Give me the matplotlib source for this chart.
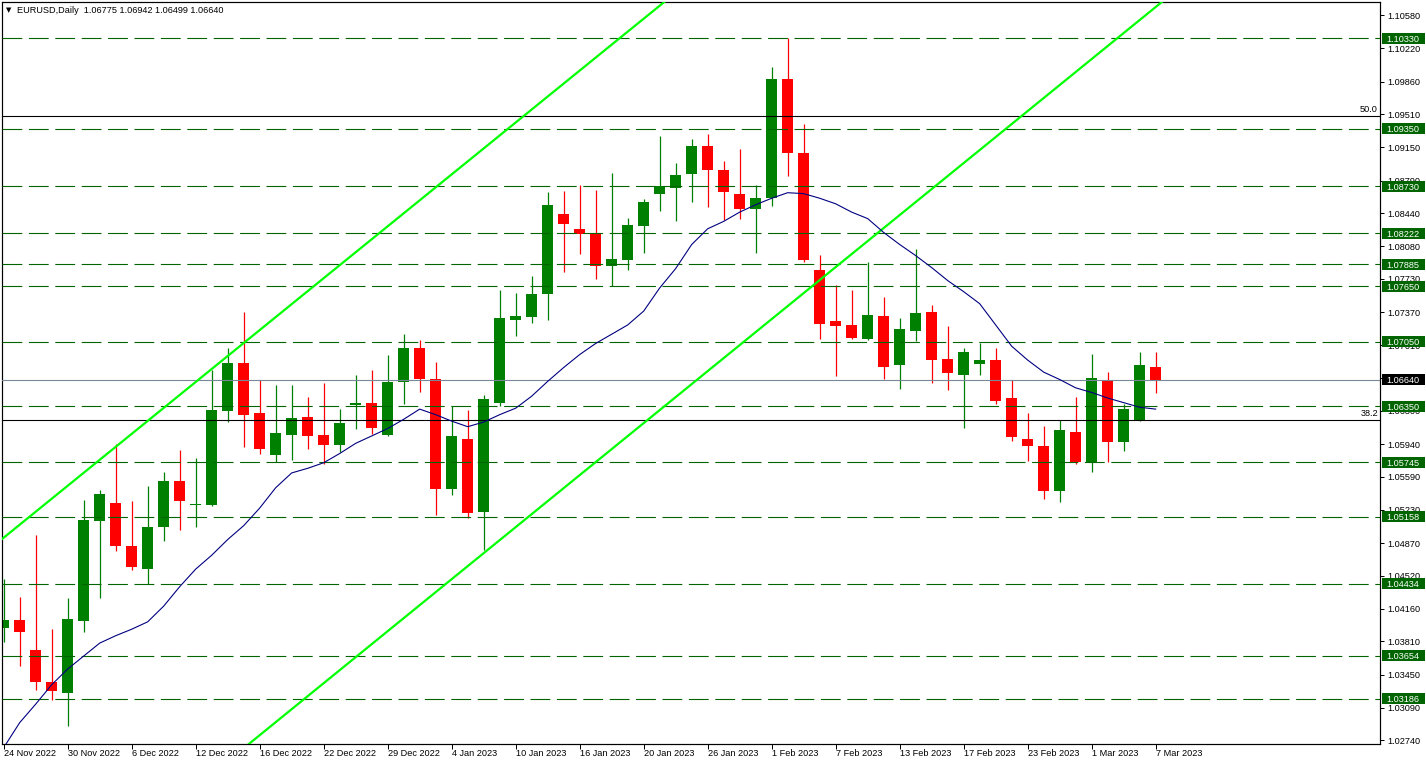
import matplotlib
matplotlib.use('Agg')
import matplotlib.pyplot as plt
from matplotlib.patches import Rectangle
import matplotlib.transforms as mtransforms

# ---------------- data ----------------
symbol_title = "EURUSD,Daily  1.06775 1.06942 1.06499 1.06640"

opens = [1.0395, 1.0404, 1.0371, 1.0337, 1.0325, 1.0403, 1.0511, 1.0530, 1.0484, 1.0459,
         1.0504, 1.0554, 1.0528, 1.0528, 1.0630, 1.0682, 1.0628, 1.0582, 1.0604, 1.0624,
         1.0604, 1.0593, 1.0636, 1.0639, 1.0604, 1.0661, 1.0698, 1.0665, 1.0546, 1.0600,
         1.0521, 1.0639, 1.0728, 1.0732, 1.0757, 1.0843, 1.0827, 1.0821, 1.0787, 1.0793,
         1.0830, 1.0865, 1.0871, 1.0886, 1.0917, 1.0891, 1.0865, 1.0848, 1.0860, 1.0989,
         1.0909, 1.0782, 1.0727, 1.0723, 1.0708, 1.0733, 1.0680, 1.0717, 1.0737, 1.0686,
         1.0669, 1.0681, 1.0685, 1.0644, 1.0600, 1.0592, 1.0543, 1.0607, 1.0575, 1.0663,
         1.0596, 1.0620, 1.06775]
highs = [1.0448, 1.0429, 1.0496, 1.0394, 1.0428, 1.0534, 1.0545, 1.0594, 1.0533, 1.0549,
         1.0564, 1.0588, 1.0579, 1.0674, 1.0698, 1.0737, 1.0663, 1.0658, 1.0658, 1.0645,
         1.0660, 1.0632, 1.0669, 1.0674, 1.0690, 1.0713, 1.0707, 1.0683, 1.0635, 1.0631,
         1.0647, 1.0761, 1.0758, 1.0776, 1.0867, 1.0868, 1.0874, 1.0869, 1.0887, 1.0839,
         1.0859, 1.0927, 1.0898, 1.0924, 1.0930, 1.0900, 1.0913, 1.0874, 1.1002, 1.1033,
         1.0940, 1.0799, 1.0766, 1.0761, 1.0791, 1.0753, 1.0730, 1.0805, 1.0745, 1.0722,
         1.0698, 1.0704, 1.0698, 1.0664, 1.0628, 1.0614, 1.0620, 1.0645, 1.0692, 1.0672,
         1.0638, 1.0694, 1.06942]
lows = [1.0380, 1.0354, 1.0328, 1.0318, 1.0289, 1.0391, 1.0428, 1.0479, 1.0458, 1.0443,
        1.0489, 1.0501, 1.0505, 1.0527, 1.0618, 1.0591, 1.0584, 1.0575, 1.0577, 1.0589,
        1.0573, 1.0586, 1.0611, 1.0605, 1.0603, 1.0638, 1.0650, 1.0518, 1.0539, 1.0514,
        1.0480, 1.0635, 1.0711, 1.0725, 1.0728, 1.0780, 1.0800, 1.0773, 1.0765, 1.0782,
        1.0801, 1.0846, 1.0835, 1.0856, 1.0850, 1.0837, 1.0838, 1.0801, 1.0852, 1.0884,
        1.0791, 1.0708, 1.0668, 1.0708, 1.0707, 1.0665, 1.0654, 1.0706, 1.0660, 1.0653,
        1.0612, 1.0669, 1.0637, 1.0598, 1.0576, 1.0535, 1.0532, 1.0573, 1.0564, 1.0575,
        1.0587, 1.0619, 1.06499]
closes = [1.0404, 1.0391, 1.0337, 1.0327, 1.0405, 1.0512, 1.0540, 1.0484, 1.0461, 1.0505,
          1.0554, 1.0533, 1.0529, 1.0631, 1.0682, 1.0626, 1.0589, 1.0606, 1.0622, 1.0603,
          1.0593, 1.0617, 1.0639, 1.0612, 1.0661, 1.0698, 1.0665, 1.0546, 1.0603, 1.0520,
          1.0643, 1.0730, 1.0733, 1.0757, 1.0853, 1.0832, 1.0821, 1.0787, 1.0794, 1.0831,
          1.0856, 1.0873, 1.0885, 1.0917, 1.0891, 1.0867, 1.0848, 1.0860, 1.0989, 1.0909,
          1.0793, 1.0724, 1.0722, 1.0709, 1.0734, 1.0677, 1.0719, 1.0736, 1.0685, 1.0671,
          1.0694, 1.0685, 1.0641, 1.0602, 1.0592, 1.0544, 1.0609, 1.0575, 1.0666, 1.0596,
          1.0632, 1.0680, 1.06640]

ma_values = [1.0266, 1.0293, 1.0313, 1.0334, 1.0351, 1.0365, 1.0379, 1.0387, 1.0394, 1.0402,
             1.0419, 1.0440, 1.0459, 1.0474, 1.0491, 1.0506, 1.0525, 1.0547, 1.0563, 1.0568,
             1.0574, 1.0584, 1.0595, 1.0603, 1.0611, 1.0621, 1.0632, 1.0626, 1.0619, 1.0613,
             1.0618, 1.0626, 1.0633, 1.0646, 1.0662, 1.0677, 1.0691, 1.0703, 1.0713, 1.0723,
             1.0738, 1.0763, 1.0784, 1.0810, 1.0827, 1.0835, 1.0845, 1.0853, 1.0860, 1.0866,
             1.0865, 1.0860, 1.0854, 1.0845, 1.0838, 1.0823, 1.0810, 1.0798, 1.0785, 1.0771,
             1.0759, 1.0746, 1.0723, 1.0700, 1.0685, 1.0672, 1.0664, 1.0655, 1.0650, 1.0644,
             1.0639, 1.0634, 1.0632]

level_prices = [1.10330, 1.09350, 1.08730, 1.08222, 1.07885, 1.07650, 1.07050,
                1.06350, 1.05745, 1.05158, 1.04434, 1.03654, 1.03186]
level_labels = ["1.10330", "1.09350", "1.08730", "1.08222", "1.07885", "1.07650", "1.07050",
                "1.06350", "1.05745", "1.05158", "1.04434", "1.03654", "1.03186"]

fib_prices = [1.09490, 1.06203]
fib_labels = ["50.0", "38.2"]

current_price = 1.06640
current_label = "1.06640"

# channel anchor points: (bar index, price)
channel_upper = [(0.0, 1.0493), (41.2, 1.1071)]
channel_lower = [(15.4, 1.0271), (72.3, 1.1071)]

ytick_values = [1.10580, 1.10220, 1.09860, 1.09510, 1.09150, 1.08790, 1.08440, 1.08080,
                1.07730, 1.07370, 1.07010, 1.06660, 1.06300, 1.05940, 1.05590, 1.05230,
                1.04870, 1.04520, 1.04160, 1.03810, 1.03450, 1.03090, 1.02740]
ytick_labels = ["1.10580", "1.10220", "1.09860", "1.09510", "1.09150", "1.08790", "1.08440",
                "1.08080", "1.07730", "1.07370", "1.07010", "1.06660", "1.06300", "1.05940",
                "1.05590", "1.05230", "1.04870", "1.04520", "1.04160", "1.03810", "1.03450",
                "1.03090", "1.02740"]

xtick_labels = ["24 Nov 2022", "30 Nov 2022", "6 Dec 2022", "12 Dec 2022", "16 Dec 2022",
                "22 Dec 2022", "29 Dec 2022", "4 Jan 2023", "10 Jan 2023", "16 Jan 2023",
                "20 Jan 2023", "26 Jan 2023", "1 Feb 2023", "7 Feb 2023", "13 Feb 2023",
                "17 Feb 2023", "23 Feb 2023", "1 Mar 2023", "7 Mar 2023"]

# ---------------- style ----------------
FONT = ['Liberation Sans', 'DejaVu Sans']
plt.rcParams['font.family'] = FONT
FS = 6.6
UP = '#008000'
DOWN = '#FF0000'
LVL = '#006400'
LIME = '#00FF00'
NAVY = '#000080'
GREY = '#778899'
PX = 0.72  # one pixel in points

W, H = 1426, 765
fig = plt.figure(figsize=(W / 100, H / 100), dpi=100)
fig.patch.set_facecolor('white')
ax = fig.add_axes([2 / W, 21 / H, 1378 / W, 742 / H])
ax.set_facecolor('white')
ymin, ymax = 1.02699, 1.10722
ax.set_xlim(-0.106, 86.02)
ax.set_ylim(ymin, ymax)
price_per_px = (ymax - ymin) / 742.0

# candles
n = len(closes)
for i in range(n):
    o, h, l, c = opens[i], highs[i], lows[i], closes[i]
    col = UP if c >= o else DOWN
    ax.vlines(i, l, h, color=col, lw=0.9, zorder=2)
    body = max(abs(c - o), 1.2 * price_per_px)
    ax.bar(i, body, bottom=min(o, c), width=0.69, color=col, lw=0, zorder=2)

# horizontal levels
for lv in level_prices:
    ax.axhline(lv, color=LVL, lw=PX * 1.1, ls=(0, (18, 6)), zorder=3)
for fv in fib_prices:
    ax.axhline(fv, color='black', lw=PX * 1.1, zorder=3)
ax.axhline(current_price, color=GREY, lw=PX * 1.1, zorder=3)

# channel lines
ax.axline(channel_upper[0], channel_upper[1], color=LIME, lw=1.6, zorder=3)
ax.axline(channel_lower[0], channel_lower[1], color=LIME, lw=1.6, zorder=3)

# moving average
ax.plot(range(n), ma_values, color=NAVY, lw=0.8, zorder=4)

# fib labels
trans = mtransforms.blended_transform_factory(ax.transAxes, ax.transData)
for fv, fl in zip(fib_prices, fib_labels):
    ax.text(1376 / 1378, fv + 1.5 * price_per_px, fl, transform=trans, ha='right',
            va='bottom', fontsize=FS, color='black', zorder=5)

# right axis
ax.yaxis.tick_right()
ax.set_yticks(ytick_values)
ax.set_yticklabels(ytick_labels)
ax.tick_params(axis='y', direction='out', length=3, width=PX, pad=2.2,
               labelsize=FS, colors='black')
xt_pos = list(range(0, 4 * len(xtick_labels), 4))
ax.set_xticks(xt_pos)
ax.set_xticklabels([])
ax.tick_params(axis='x', direction='out', length=3.5, width=PX, colors='black')
for sp in ax.spines.values():
    sp.set_linewidth(PX * 1.2)
    sp.set_color('black')

# x labels
xtrans = mtransforms.blended_transform_factory(ax.transData, ax.transAxes)
for p, lab in zip(xt_pos, xtick_labels):
    ax.text(p + 0.05, -9.5 / 742, lab, transform=xtrans, ha='left', va='center',
            fontsize=FS, color='black', clip_on=False)

# price boxes
bx0 = (1381.5 - 2) / 1378
bw = (1425 - 1381.5) / 1378
tx = (1386.5 - 2) / 1378
bh = 11 * price_per_px
for lv, lab in zip(level_prices, level_labels):
    ax.add_patch(Rectangle((bx0, lv - bh / 2), bw, bh, transform=trans, facecolor=LVL,
                           edgecolor='none', clip_on=False, zorder=6))
    ax.text(tx, lv, lab, transform=trans, ha='left', va='center_baseline', fontsize=FS,
            color='white', clip_on=False, zorder=7)
ax.add_patch(Rectangle((bx0, current_price - bh / 2), bw, bh, transform=trans,
                       facecolor='black', edgecolor='none', clip_on=False, zorder=6))
ax.text(tx, current_price, current_label, transform=trans, ha='left', va='center_baseline',
        fontsize=FS, color='white', clip_on=False, zorder=7)

# title
fig.text(5.5 / W, 1 - 10.5 / H, '\u25bc', fontsize=5, family=['DejaVu Sans'],
         va='center', ha='left', color='black')
fig.text(17 / W, 1 - 10.5 / H, symbol_title, fontsize=FS, va='center', ha='left',
         color='black')

fig.savefig('out.png', dpi=100, facecolor='white')
